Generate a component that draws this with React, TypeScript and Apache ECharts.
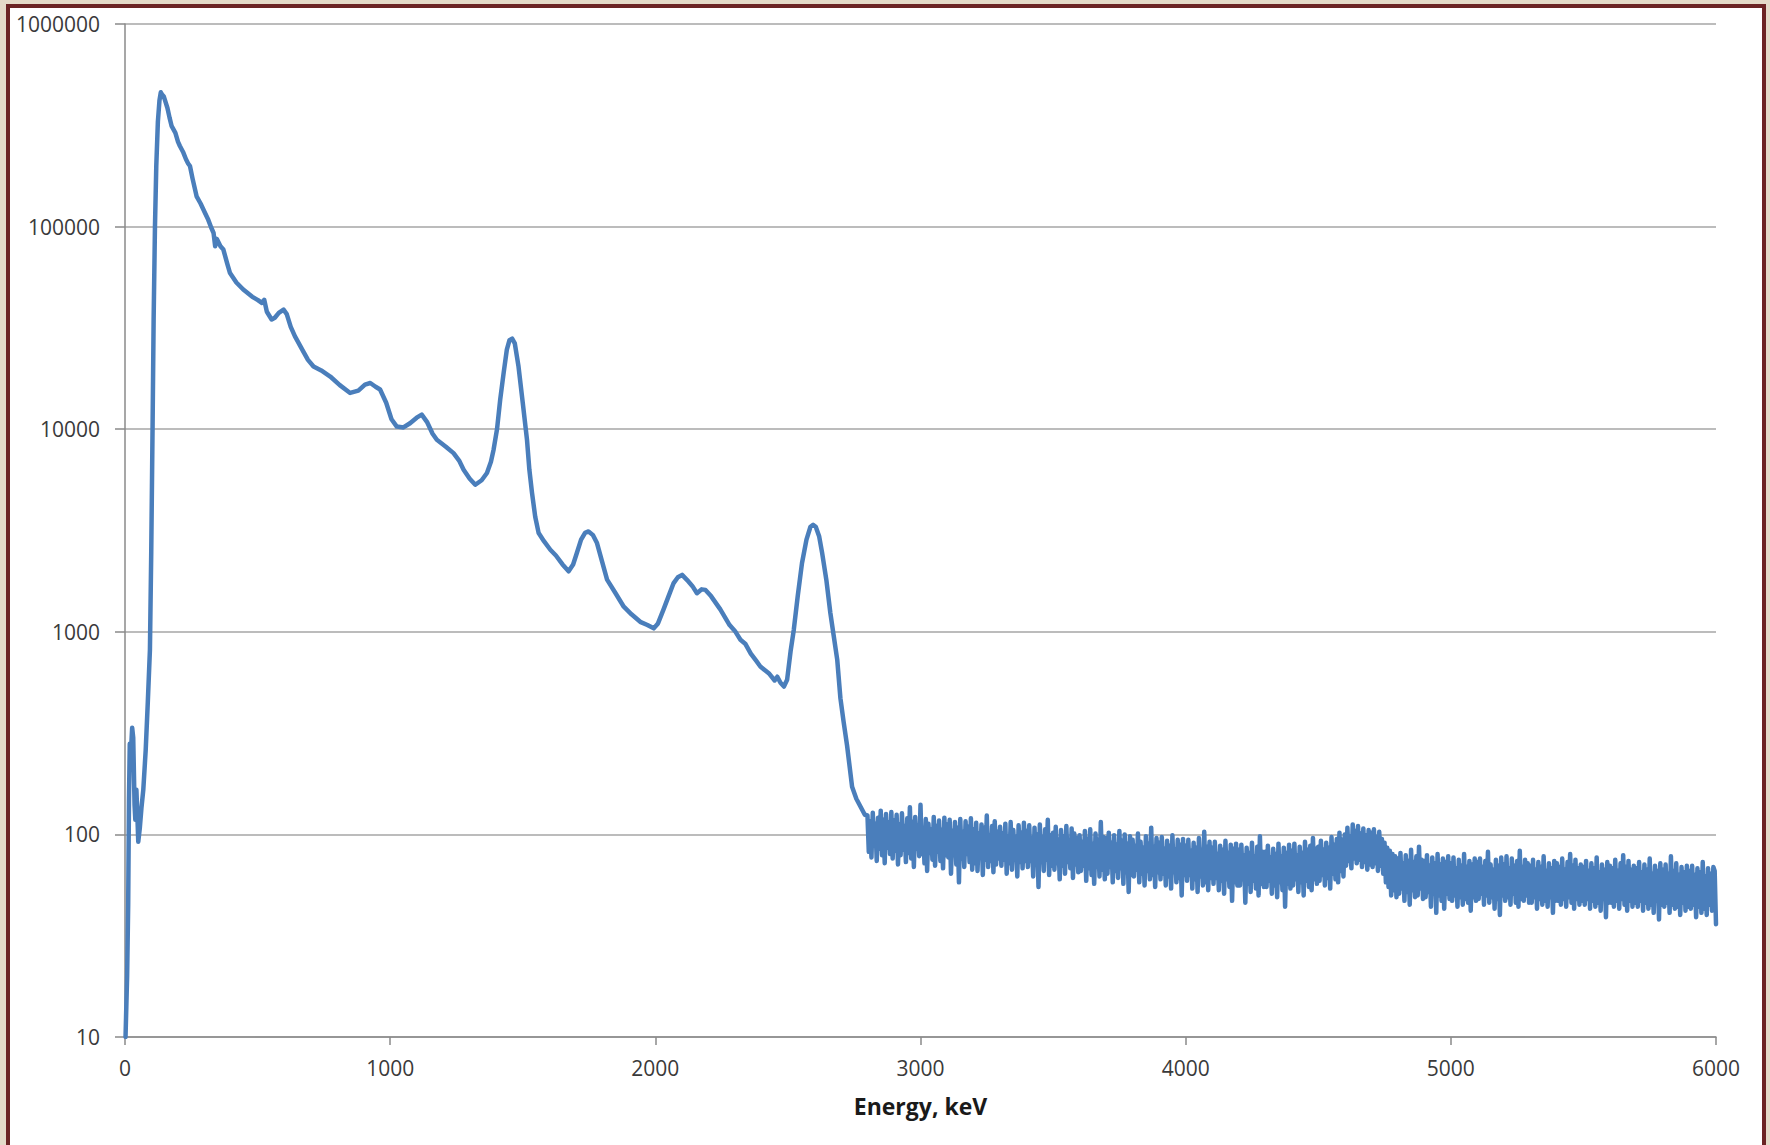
import React, { useEffect, useRef } from "react";
import * as echarts from "echarts";

// Smooth part of the spectrum: [energy keV, counts]
const SPECTRUM_LOW: [number, number][] = [
  [2, 10], [8, 20], [12, 45], [15, 150], [18, 280], [22, 250], [27, 336], [31, 300],
  [36, 140], [39, 118], [43, 166], [47, 120], [50, 92], [56, 108], [62, 135], [69, 166],
  [78, 260], [86, 450], [94, 815], [99, 2500], [104, 10300], [108, 35000], [113, 100000],
  [118, 200000], [124, 330000], [130, 420000], [135, 460000], [140, 448000], [146, 440000],
  [151, 420000], [160, 385000], [168, 345000], [176, 313000], [190, 290000], [200, 262000],
  [207, 250000], [220, 232000], [230, 215000], [238, 205000], [245, 199000], [255, 172000],
  [270, 141000], [285, 130000], [300, 118000], [314, 108000], [325, 99000], [334, 93000],
  [340, 80000], [346, 87000], [360, 80000], [371, 77000], [385, 66000], [396, 59000],
  [420, 53000], [446, 48900], [480, 45000], [500, 43500], [516, 42000], [525, 43500],
  [535, 38000], [553, 34800], [565, 35500], [580, 37500], [598, 38900], [610, 37000],
  [625, 32000], [641, 28700], [670, 24500], [690, 22000], [711, 20400], [740, 19500],
  [774, 18200], [810, 16500], [849, 15100], [880, 15500], [905, 16600], [925, 16900],
  [945, 16200], [962, 15700], [985, 13500], [1005, 11200], [1025, 10300], [1050, 10200],
  [1075, 10700], [1100, 11400], [1119, 11800], [1140, 10800], [1160, 9500], [1176, 8870],
  [1210, 8200], [1239, 7620], [1260, 7000], [1277, 6310], [1300, 5700], [1321, 5320],
  [1345, 5600], [1365, 6080], [1380, 6900], [1390, 7920], [1403, 10000], [1415, 14000],
  [1428, 19000], [1440, 24700], [1450, 27500], [1460, 28000], [1470, 26500], [1484, 20400],
  [1500, 13500], [1516, 8870], [1525, 6300], [1535, 4840], [1547, 3700], [1560, 3070],
  [1580, 2800], [1604, 2540], [1625, 2380], [1650, 2150], [1673, 1990], [1690, 2150],
  [1704, 2450], [1720, 2850], [1735, 3080], [1748, 3130], [1765, 3000], [1780, 2740],
  [1800, 2200], [1818, 1810], [1850, 1550], [1881, 1330], [1910, 1220], [1943, 1120],
  [1970, 1080], [1994, 1040], [2010, 1100], [2031, 1290], [2050, 1500], [2069, 1740],
  [2085, 1860], [2101, 1910], [2120, 1800], [2140, 1680], [2157, 1550], [2175, 1620],
  [2189, 1610], [2210, 1500], [2245, 1290], [2280, 1080], [2300, 1010], [2321, 913],
  [2340, 870], [2360, 780], [2380, 720], [2396, 674], [2430, 620], [2450, 575], [2460, 600],
  [2472, 560], [2485, 537], [2497, 580], [2510, 800], [2522, 1020], [2537, 1500],
  [2553, 2180], [2570, 2850], [2585, 3300], [2595, 3370], [2605, 3300], [2618, 2950],
  [2629, 2450], [2645, 1800], [2660, 1240], [2673, 950], [2686, 728], [2698, 470],
  [2710, 360], [2723, 275], [2742, 172], [2758, 150], [2774, 137], [2790, 125],
];

// Noisy tail: channels every 5 keV from 2800 to 6000 keV (one row = 100 keV)
const NOISE_START_KEV = 2800;
const NOISE_STEP_KEV = 5;
const NOISE_COUNTS: number[] = [
  124, 82, 116, 77, 128, 88, 113, 74, 121, 85, 131, 79, 118, 72, 126, 86, 114, 80, 129, 76,
  117, 83, 125, 71, 112, 79, 127, 84, 110, 73, 120, 81, 136, 76, 115, 69, 122, 85, 111, 78,
  140, 80, 108, 72, 119, 66, 113, 81, 106, 75, 122, 70, 110, 82, 117, 74, 105, 68, 121, 79,
  112, 77, 118, 64, 104, 79, 115, 71, 108, 58, 119, 76, 103, 69, 116, 80, 109, 73, 120, 67,
  106, 72, 114, 66, 101, 77, 112, 63, 108, 75, 124, 69, 99, 74, 110, 65, 116, 71, 103, 76,
  109, 70, 101, 75, 113, 64, 98, 72, 115, 67, 105, 76, 97, 62, 111, 73, 102, 68, 114, 74,
  104, 69, 111, 74, 96, 62, 108, 71, 100, 55, 112, 73, 97, 66, 106, 75, 118, 63, 99, 70,
  102, 67, 109, 72, 94, 60, 105, 70, 98, 64, 110, 73, 93, 68, 107, 61, 101, 71, 96, 65,
  99, 66, 92, 70, 104, 59, 95, 68, 106, 63, 90, 57, 101, 69, 94, 62, 115, 67, 97, 60,
  96, 64, 102, 69, 91, 58, 99, 66, 89, 61, 104, 68, 93, 57, 100, 65, 90, 52, 98, 63,
  94, 62, 88, 67, 101, 58, 92, 64, 86, 56, 98, 66, 90, 60, 108, 63, 87, 55, 96, 65,
  91, 60, 97, 64, 85, 56, 93, 62, 88, 54, 99, 65, 84, 58, 94, 61, 89, 50, 95, 63,
  88, 59, 94, 63, 83, 54, 91, 60, 86, 52, 96, 62, 84, 56, 103, 58, 87, 53, 92, 61,
  86, 57, 92, 61, 80, 53, 88, 59, 84, 51, 93, 60, 81, 55, 89, 47, 85, 58, 90, 56,
  84, 56, 89, 60, 79, 46, 86, 57, 81, 52, 91, 59, 78, 54, 87, 50, 98, 57, 82, 55,
  82, 55, 88, 59, 77, 51, 85, 56, 80, 49, 90, 58, 78, 53, 86, 44, 81, 57, 89, 54,
  83, 56, 90, 60, 79, 52, 87, 58, 81, 50, 92, 59, 84, 55, 88, 53, 96, 60, 85, 57,
  87, 59, 93, 63, 84, 56, 91, 61, 86, 54, 97, 64, 89, 60, 95, 58, 102, 66, 94, 62,
  100, 70, 108, 74, 98, 68, 112, 76, 104, 72, 110, 75, 101, 69, 107, 73, 99, 67, 105, 71,
  102, 69, 106, 72, 97, 66, 103, 70, 95, 64, 91, 58, 86, 55, 83, 50, 80, 53, 78, 49,
  76, 51, 81, 54, 72, 47, 79, 52, 74, 45, 84, 53, 73, 49, 78, 50, 87, 54, 75, 48,
  74, 49, 79, 52, 70, 44, 77, 51, 72, 41, 80, 50, 71, 47, 76, 43, 73, 51, 78, 48,
  72, 47, 77, 50, 68, 44, 75, 49, 70, 45, 80, 48, 69, 46, 74, 42, 71, 49, 76, 47,
  73, 48, 76, 51, 69, 45, 74, 50, 82, 46, 71, 49, 67, 43, 75, 48, 70, 40, 77, 50,
  71, 47, 78, 49, 68, 45, 76, 51, 70, 46, 74, 44, 83, 48, 69, 47, 75, 50, 72, 46,
  70, 46, 75, 49, 67, 43, 73, 48, 69, 45, 78, 47, 66, 44, 72, 49, 68, 41, 74, 47,
  72, 47, 69, 45, 76, 48, 67, 44, 73, 49, 80, 46, 70, 43, 75, 48, 68, 45, 71, 47,
  69, 45, 74, 48, 66, 43, 72, 47, 68, 44, 77, 46, 65, 42, 71, 48, 67, 39, 73, 46,
  70, 46, 68, 44, 75, 47, 66, 43, 72, 48, 79, 45, 69, 42, 74, 47, 67, 44, 70, 46,
  68, 44, 73, 47, 65, 42, 71, 46, 67, 43, 76, 45, 64, 41, 70, 47, 66, 38, 72, 45,
  67, 44, 71, 46, 64, 41, 78, 45, 66, 43, 72, 44, 63, 40, 69, 46, 65, 42, 70, 44,
  66, 43, 70, 45, 63, 39, 68, 44, 65, 41, 73, 43, 62, 40, 68, 45, 64, 42, 69, 66,
  36,
];

const X_TICKS = [0, 1000, 2000, 3000, 4000, 5000, 6000];
const Y_TICKS = [10, 100, 1000, 10000, 100000, 1000000];
const X_NAME = "Energy, keV";

export default function App() {
  const ref = useRef<HTMLDivElement>(null);

  useEffect(() => {
    if (!ref.current) return;
    const chart = echarts.init(ref.current, null, { renderer: "svg" });
    const data: [number, number][] = SPECTRUM_LOW.concat(
      NOISE_COUNTS.map((c, i) => [NOISE_START_KEV + i * NOISE_STEP_KEV, c] as [number, number])
    );
    const labelFont = { fontFamily: "Open Sans", fontSize: 21, color: "#3a3a3a" };
    chart.setOption({
      animation: false,
      backgroundColor: "transparent",
      grid: { left: 125, top: 24, width: 1591, height: 1013, containLabel: false },
      xAxis: {
        type: "value",
        min: X_TICKS[0],
        max: X_TICKS[X_TICKS.length - 1],
        interval: 1000,
        name: X_NAME,
        nameLocation: "middle",
        nameGap: 57,
        nameTextStyle: { fontFamily: "Open Sans", fontSize: 23, fontWeight: "bold", color: "#1a1a1a" },
        axisLine: { show: true, lineStyle: { color: "#8a8a8a", width: 1.5 } },
        axisTick: { show: true, inside: false, length: 8, lineStyle: { color: "#8a8a8a", width: 1.5 } },
        axisLabel: { ...labelFont, margin: 20, formatter: (v: number) => String(Math.round(v)) },
        splitLine: { show: false },
      },
      yAxis: {
        type: "log",
        logBase: 10,
        min: Y_TICKS[0],
        max: Y_TICKS[Y_TICKS.length - 1],
        axisLine: { show: true, lineStyle: { color: "#8a8a8a", width: 1.5 } },
        axisTick: { show: true, inside: false, length: 10, lineStyle: { color: "#8a8a8a", width: 1.5 } },
        axisLabel: { ...labelFont, margin: 25, formatter: (v: number) => String(Math.round(v)) },
        splitLine: { show: true, lineStyle: { color: "#a6a6a6", width: 1.5 } },
        minorTick: { show: false },
      },
      series: [
        {
          type: "line",
          data,
          symbol: "none",
          showSymbol: false,
          smooth: false,
          silent: true,
          lineStyle: { color: "#4a7ebb", width: 4.5, join: "round", cap: "round" },
        },
      ],
    });
    return () => chart.dispose();
  }, []);

  return (
    <div
      style={{
        position: "fixed",
        left: 0,
        top: 0,
        width: 1770,
        height: 1145,
        overflow: "hidden",
        background: "#e4dac8",
      }}
    >
      <div
        style={{
          position: "absolute",
          left: 6,
          top: 4,
          width: 1752,
          height: 1200,
          background: "#ffffff",
          border: "4px solid #6b2424",
        }}
      />
      <div ref={ref} style={{ position: "absolute", left: 0, top: 0, width: 1770, height: 1145 }} />
    </div>
  );
}
